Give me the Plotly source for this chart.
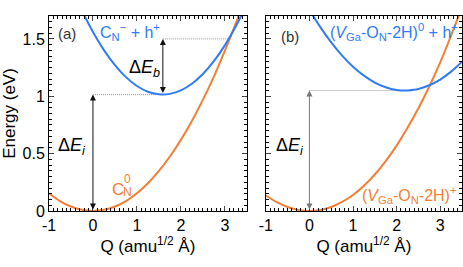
import plotly.graph_objects as go

# ---- data ----
q_a = [-1, -0.75, -0.5, -0.25, 0, 0.25, 0.5, 0.75, 1, 1.25, 1.5, 1.75, 2, 2.25, 2.5, 2.75, 3, 3.25, 3.5]
e_a_ground = [0.155, 0.087, 0.039, 0.010, 0, 0.010, 0.039, 0.087, 0.155, 0.242, 0.349, 0.475, 0.62, 0.785, 0.969, 1.172, 1.395, 1.637, 1.899]
q_a_exc = [-0.5, -0.25, 0, 0.25, 0.5, 0.75, 1, 1.25, 1.5, 1.59, 1.75, 2, 2.25, 2.5, 2.75, 3, 3.25, 3.5]
e_a_exc = [1.958, 1.746, 1.561, 1.403, 1.272, 1.167, 1.090, 1.040, 1.017, 1.015, 1.021, 1.051, 1.109, 1.194, 1.306, 1.444, 1.610, 1.803]

q_b = [-1, -0.75, -0.5, -0.25, 0, 0.25, 0.5, 0.75, 1, 1.25, 1.5, 1.75, 2, 2.25, 2.5, 2.75, 3, 3.25, 3.5]
e_b_ground = [0.135, 0.077, 0.035, 0.009, 0, 0.009, 0.035, 0.079, 0.14, 0.22, 0.318, 0.435, 0.57, 0.725, 0.895, 1.085, 1.295, 1.53, 1.78]
q_b_exc = [-0.25, 0, 0.25, 0.5, 0.75, 1, 1.25, 1.5, 1.75, 2, 2.19, 2.25, 2.5, 2.75, 3, 3.25, 3.5]
e_b_exc = [1.925, 1.755, 1.603, 1.470, 1.355, 1.258, 1.180, 1.120, 1.079, 1.055, 1.050, 1.051, 1.064, 1.096, 1.146, 1.215, 1.302]

# characteristic points (minima / crossing)
a_min_q, a_min_e = 1.59, 1.015
a_cross_q, a_cross_e = 3.09, 1.50
b_min_q, b_min_e = 2.19, 1.05

y_tickvals = [0, 0.5, 1, 1.5]
y_ticktext = ["0", "0.5", "1", "1.5"]
x_tickvals = [-1, 0, 1, 2, 3]
x_ticktext = ["-1", "0", "1", "2", "3"]

BLUE = "#2f7cf6"
ORANGE = "#f27f35"
FONT = "Liberation Sans, Arial, sans-serif"

fig = go.Figure()

def curve(x, y, color, xa, ya):
    fig.add_trace(go.Scatter(x=x, y=y, mode="lines", line=dict(color=color, width=2, shape="spline"),
                             xaxis=xa, yaxis=ya, showlegend=False, hoverinfo="skip"))

def dotted(x, y, xa, ya):
    fig.add_trace(go.Scatter(x=x, y=y, mode="lines", line=dict(color="#999999", width=1, dash="1px,1px"),
                             xaxis=xa, yaxis=ya, showlegend=False, hoverinfo="skip"))

# dotted guide lines
dotted([0, a_min_q], [a_min_e, a_min_e], "x", "y")
dotted([a_min_q, a_cross_q], [a_cross_e, a_cross_e], "x", "y")
dotted([0, b_min_q], [b_min_e, b_min_e], "x2", "y2")

curve(q_a, e_a_ground, ORANGE, "x", "y")
curve(q_a_exc, e_a_exc, BLUE, "x", "y")
curve(q_b, e_b_ground, ORANGE, "x2", "y2")
curve(q_b_exc, e_b_exc, BLUE, "x2", "y2")

ann = []
def arrow(x, y0, y1, xr, yr, color):
    ann.append(dict(x=x, y=y1, ax=x, ay=y0, xref=xr, yref=yr, axref=xr, ayref=yr,
                    showarrow=True, arrowhead=2, arrowsize=1.2, arrowwidth=1,
                    arrowside="end+start", arrowcolor=color, text="", standoff=0, startstandoff=0))

arrow(0, 0, a_min_e, "x", "y", "#111111")
arrow(a_min_q, a_min_e, a_cross_e, "x", "y", "#111111")
arrow(0, 0, b_min_e, "x2", "y2", "#777777")

def text(x, y, s, xr, yr, color="black", size=16, xanchor="center"):
    ann.append(dict(x=x, y=y, xref=xr, yref=yr, text=s, showarrow=False,
                    font=dict(family=FONT, size=size, color=color), xanchor=xanchor, yanchor="middle"))

text(-0.58, 1.55, "(a)", "x", "y", "#333333", 15)
text(0.84, 1.56, "C<sub>N</sub><sup>−</sup> + h<sup>+</sup>", "x", "y", BLUE, 16)
text(1.18, 1.24, "Δ<i>E</i><sub><i>b</i></sub>", "x", "y", "black", 18)
text(-0.48, 0.56, "Δ<i>E</i><sub><i>i</i></sub>", "x", "y", "black", 18)
text(0.56, 0.19, "C", "x", "y", ORANGE, 17)
text(0.79, 0.28, "0", "x", "y", ORANGE, 12)
text(0.79, 0.165, "N", "x", "y", ORANGE, 12)

text(-0.44, 1.52, "(b)", "x2", "y2", "#333333", 15)
text(1.95, 1.56, "(<i>V</i><sub>Ga</sub>-O<sub>N</sub>-2H)<sup>0</sup> + h<sup>+</sup>", "x2", "y2", BLUE, 16)
text(2.28, 0.14, "(<i>V</i><sub>Ga</sub>-O<sub>N</sub>-2H)<sup>+</sup>", "x2", "y2", ORANGE, 16)
text(-0.44, 0.56, "Δ<i>E</i><sub><i>i</i></sub>", "x2", "y2", "black", 18)

xcommon = dict(range=[-1, 3.5], tickvals=x_tickvals, ticktext=x_ticktext, ticks="inside", ticklen=5,
               showline=True, linecolor="black", linewidth=1, mirror="allticks", showgrid=False,
               zeroline=False, tickfont=dict(family=FONT, size=16, color="black"), automargin=False,
               minor=dict(ticks="inside", dtick=0.1, tick0=0, ticklen=3, tickcolor="black", showgrid=False),
               title=dict(text="Q (amu<sup>1/2</sup> Å)", font=dict(family=FONT, size=17, color="black"), standoff=2))
ycommon = dict(range=[0, 1.7], tickvals=y_tickvals, ticks="inside", ticklen=5,
               showline=True, linecolor="black", linewidth=1, mirror="allticks", showgrid=False,
               zeroline=False, tickfont=dict(family=FONT, size=16, color="black"), automargin=False,
               minor=dict(ticks="inside", dtick=0.05, tick0=0, ticklen=3, tickcolor="black", showgrid=False))

fig.update_layout(
    width=463, height=267,
    margin=dict(l=49, r=1, t=16, b=56),
    paper_bgcolor="white", plot_bgcolor="white",
    xaxis=dict(domain=[0, 0.479], anchor="y", **xcommon),
    xaxis2=dict(domain=[0.525, 1.0], anchor="y2", **xcommon),
    yaxis=dict(domain=[0, 1], anchor="x", ticktext=y_ticktext,
               title=dict(text="Energy (eV)", font=dict(family=FONT, size=17, color="black"), standoff=6),
               **ycommon),
    yaxis2=dict(domain=[0, 1], anchor="x2", showticklabels=False, **ycommon),
    annotations=ann,
    showlegend=False,
)

fig.write_html("out.html", config={"displayModeBar": False},
               post_script="document.body.style.margin='0';document.body.style.padding='0';")
